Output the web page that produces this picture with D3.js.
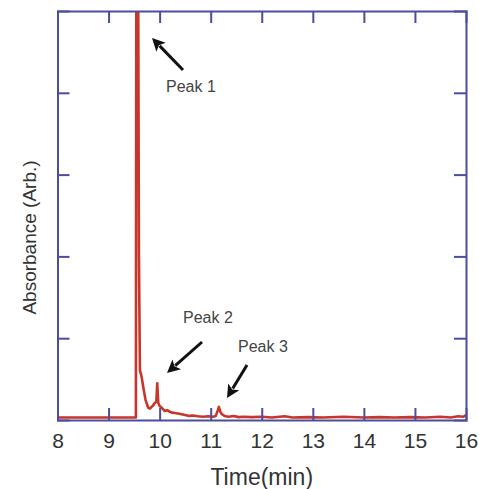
<!DOCTYPE html>
<html>
<head>
<meta charset="utf-8">
<script src="https://cdn.jsdelivr.net/npm/d3@7"></script>
<style>
  html, body { margin: 0; padding: 0; background: #fff; }
  svg { display: block; }
</style>
</head>
<body>
<script>
// ---- data ----
const time = [8.0, 9.0, 9.52, 9.535, 9.545, 9.575, 9.595, 9.614, 9.647, 9.68, 9.726, 9.777, 9.81, 9.843, 9.875, 9.908, 9.935, 9.953, 9.973, 10.0, 10.04, 10.07, 10.10, 10.15, 10.20, 10.25, 10.30, 10.36, 10.43, 10.50, 10.58, 10.65, 10.75, 10.85, 10.95, 11.05, 11.10, 11.14, 11.16, 11.19, 11.22, 11.27, 11.35, 11.45, 11.55, 11.65, 11.80, 12.0, 12.2, 12.45, 12.6, 12.9, 13.2, 13.6, 14.0, 14.3, 14.6, 14.9, 15.2, 15.5, 15.7, 15.85, 15.95, 16.0];
const absorbance = [0.03, 0.03, 0.03, 0.03, 6.5, 6.5, 2.0, 0.61, 0.53, 0.40, 0.24, 0.15, 0.14, 0.16, 0.18, 0.21, 0.22, 0.45, 0.21, 0.17, 0.15, 0.13, 0.11, 0.12, 0.10, 0.09, 0.085, 0.08, 0.07, 0.06, 0.05, 0.055, 0.045, 0.04, 0.045, 0.04, 0.05, 0.12, 0.16, 0.10, 0.07, 0.05, 0.04, 0.05, 0.035, 0.04, 0.035, 0.04, 0.03, 0.045, 0.03, 0.035, 0.03, 0.04, 0.03, 0.035, 0.03, 0.035, 0.03, 0.04, 0.03, 0.045, 0.04, 0.06];
const xTicks = [8, 9, 10, 11, 12, 13, 14, 15, 16];
const yTicks = [1, 2, 3, 4];
const annotations = [
  { label: "Peak 1", tx: 9.58, ty: 4.58 },
  { label: "Peak 2", tx: 9.95, ty: 1.2 },
  { label: "Peak 3", tx: 11.16, ty: 0.83 }
];

// ---- layout ----
const W = 479, H = 489;
const m = { left: 57.5, right: 13, top: 11, bottom: 69 };
const iw = W - m.left - m.right, ih = H - m.top - m.bottom;
const axisColor = "#4a4e9e", lineColor = "#c8352b", textColor = "#333";

const svg = d3.select("body").append("svg").attr("width", W).attr("height", H);

const x = d3.scaleLinear().domain([8, 16]).range([m.left, m.left + iw]);
const y = d3.scaleLinear().domain([0, 5]).range([m.top + ih, m.top]);

svg.append("defs").append("clipPath").attr("id", "clip")
  .append("rect").attr("x", m.left).attr("y", m.top).attr("width", iw).attr("height", ih);

// line
const pts = time.map((t, i) => [t, absorbance[i]]);
svg.append("path")
  .datum(pts)
  .attr("clip-path", "url(#clip)")
  .attr("fill", "none")
  .attr("stroke", lineColor)
  .attr("stroke-width", 2.6)
  .attr("stroke-linejoin", "round")
  .attr("d", d3.line().x(d => x(d[0])).y(d => y(d[1])));

// axes (inward ticks)
const tickLen = 12;
const gB = svg.append("g").attr("transform", `translate(0,${m.top + ih})`)
  .call(d3.axisBottom(x).tickValues(xTicks).tickSize(-tickLen).tickPadding(13).tickFormat(d3.format("d")));
const gT = svg.append("g").attr("transform", `translate(0,${m.top})`)
  .call(d3.axisTop(x).tickValues(xTicks).tickSize(-tickLen).tickFormat(""));
const gL = svg.append("g").attr("transform", `translate(${m.left},0)`)
  .call(d3.axisLeft(y).tickValues(yTicks).tickSize(-tickLen).tickFormat(""));
const gR = svg.append("g").attr("transform", `translate(${m.left + iw},0)`)
  .call(d3.axisRight(y).tickValues(yTicks).tickSize(-tickLen).tickFormat(""));

[gB, gT, gL, gR].forEach(g => {
  g.select(".domain").attr("stroke", axisColor).attr("stroke-width", 2);
  g.selectAll(".tick line").attr("stroke", axisColor).attr("stroke-width", 2);
});
gB.selectAll(".tick text")
  .attr("fill", textColor)
  .style("font-family", "Liberation Sans, Arial, sans-serif")
  .style("font-size", "21px");
[gB, gT].forEach(g => g.selectAll(".tick line").filter(d => d === 8 || d === 16).attr("stroke", "none"));

// axis titles
svg.append("text")
  .attr("x", x(12)).attr("y", 485)
  .attr("text-anchor", "middle")
  .attr("fill", textColor)
  .style("font-family", "Liberation Sans, Arial, sans-serif")
  .style("font-size", "23px")
  .text("Time(min)");
svg.append("text")
  .attr("transform", `translate(36,${(m.top + m.top + ih) / 2 + 22}) rotate(-90)`)
  .attr("text-anchor", "middle")
  .attr("fill", textColor)
  .style("font-family", "Liberation Sans, Arial, sans-serif")
  .style("font-size", "19px")
  .text("Absorbance (Arb.)");

// annotations
const arrows = [
  { x1: 183, y1: 70, x2: 152, y2: 38, lx: 166, ly: 92 },
  { x1: 202, y1: 342, x2: 167, y2: 373, lx: 183, ly: 323 },
  { x1: 247, y1: 365, x2: 227, y2: 398, lx: 238, ly: 352 }
];
annotations.forEach((a, i) => {
  const ar = arrows[i];
  const ang = Math.atan2(ar.y2 - ar.y1, ar.x2 - ar.x1);
  const hl = 13, hw = 6.5;
  const bx = ar.x2 - hl * Math.cos(ang), by = ar.y2 - hl * Math.sin(ang);
  svg.append("line")
    .attr("x1", ar.x1).attr("y1", ar.y1).attr("x2", bx + 2 * Math.cos(ang)).attr("y2", by + 2 * Math.sin(ang))
    .attr("stroke", "#111").attr("stroke-width", 3);
  svg.append("path")
    .attr("d", `M${ar.x2},${ar.y2} L${bx - hw * Math.sin(ang)},${by + hw * Math.cos(ang)} L${bx + 3 * Math.cos(ang)},${by + 3 * Math.sin(ang)} L${bx + hw * Math.sin(ang)},${by - hw * Math.cos(ang)} Z`)
    .attr("fill", "#111");
  svg.append("text")
    .attr("x", ar.lx).attr("y", ar.ly)
    .attr("fill", "#444")
    .style("font-family", "Liberation Sans, Arial, sans-serif")
    .style("font-size", "16px")
    .text(a.label);
});
</script>
</body>
</html>
